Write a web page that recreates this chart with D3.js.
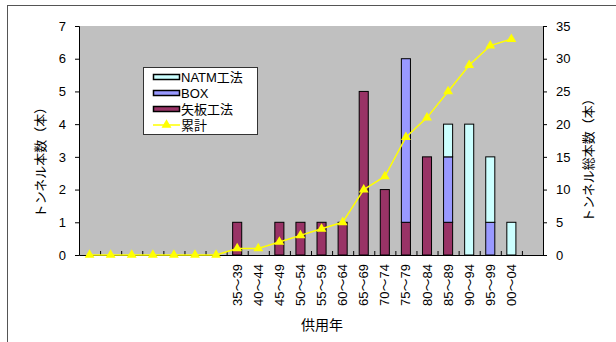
<!DOCTYPE html>
<html>
<head>
<meta charset="utf-8">
<script src="https://cdn.jsdelivr.net/npm/d3@7"></script>
<style>
  body { margin: 0; background: #fff; }
  text { font-family: "Liberation Sans", Arial, "Noto Sans CJK JP", sans-serif; }
</style>
</head>
<body>
<div id="d3-container"></div>
<script>
/**
 * DATA
 * */
// category labels (blank ones at the start and end are real, unlabeled periods)
const periods = ["", "", "", "", "", "", "",
  "35～39", "40～44", "45～49", "50～54", "55～59", "60～64", "65～69",
  "70～74", "75～79", "80～84", "85～89", "90～94", "95～99", "00～04", ""];
const yaita = [0, 0, 0, 0, 0, 0, 0, 1, 0, 1, 1, 1, 1, 5, 2, 1, 3, 1, 0, 0, 0, 0];
const box   = [0, 0, 0, 0, 0, 0, 0, 0, 0, 0, 0, 0, 0, 0, 0, 5, 0, 2, 0, 1, 0, 0];
const natm  = [0, 0, 0, 0, 0, 0, 0, 0, 0, 0, 0, 0, 0, 0, 0, 0, 0, 1, 4, 2, 1, 0];
const cumulative = [0, 0, 0, 0, 0, 0, 0, 1, 1, 2, 3, 4, 5, 10, 12, 18, 21, 25, 29, 32, 33, null];
const leftTicks = [0, 1, 2, 3, 4, 5, 6, 7];
const rightTicks = [0, 5, 10, 15, 20, 25, 30, 35];

const width = 616, height = 342;
const margin = { top: 26, bottom: 87, left: 79, right: 73 };

const keys = ["yaita", "box", "natm"];
const colors = { yaita: "#993366", box: "#9999FF", natm: "#CCFFFF" };

const rows = periods.map((p, i) => ({ i, label: p, yaita: yaita[i], box: box[i], natm: natm[i], cum: cumulative[i] }));

const svg = d3.select("#d3-container").append("svg")
  .attr("width", width)
  .attr("height", height);

// outer frame
svg.append("rect")
  .attr("x", 7.5).attr("y", 5.5)
  .attr("width", 640).attr("height", 400)
  .attr("fill", "none").attr("stroke", "#555");

const x = d3.scaleBand()
  .domain(rows.map(d => d.i))
  .range([margin.left, width - margin.right])
  .padding(0);

const y = d3.scaleLinear().domain([0, 7]).range([height - margin.bottom, margin.top]);
const y2 = d3.scaleLinear().domain([0, 35]).range([height - margin.bottom, margin.top]);

// plot area
svg.append("rect")
  .attr("x", margin.left).attr("y", margin.top)
  .attr("width", width - margin.left - margin.right)
  .attr("height", height - margin.top - margin.bottom)
  .attr("fill", "#C0C0C0");

// stacked bars
const stacked = d3.stack().keys(keys)(rows);
const barW = x.bandwidth() * 0.43;

svg.append("g").selectAll("g")
  .data(stacked)
  .join("g")
  .attr("fill", d => colors[d.key])
  .selectAll("rect")
  .data(d => d.filter(s => s[1] - s[0] > 0))
  .join("rect")
  .attr("x", d => x(d.data.i) + (x.bandwidth() - barW) / 2)
  .attr("y", d => y(d[1]))
  .attr("width", barW)
  .attr("height", d => y(d[0]) - y(d[1]))
  .attr("stroke", "#000")
  .attr("stroke-width", 1);

// left axis
svg.append("g")
  .attr("transform", `translate(${margin.left},0)`)
  .call(d3.axisLeft(y).tickValues(leftTicks).tickFormat(d3.format("d")).tickSize(4).tickPadding(9))
  .call(g => g.selectAll("text").attr("font-size", 13).attr("fill", "#000"))
  .call(g => g.selectAll("line, path").attr("stroke", "#000"));

// right axis
svg.append("g")
  .attr("transform", `translate(${width - margin.right},0)`)
  .call(d3.axisRight(y2).tickValues(rightTicks).tickFormat(d3.format("d")).tickSize(4).tickPadding(9))
  .call(g => g.selectAll("text").attr("font-size", 13).attr("fill", "#000"))
  .call(g => g.selectAll("line, path").attr("stroke", "#000"));

// bottom axis
const xAxis = svg.append("g")
  .attr("transform", `translate(0,${height - margin.bottom})`)
  .call(d3.axisBottom(x).tickFormat(i => periods[i]).tickSize(0).tickPadding(0));
xAxis.select("path").attr("stroke", "#000");
xAxis.selectAll("text")
  .attr("font-size", 13)
  .attr("fill", "#000")
  .attr("text-anchor", "end")
  .attr("dy", "0.35em")
  .attr("transform", "translate(0,9) rotate(-90)")
  .attr("x", 0).attr("y", 0);

// small category boundary ticks
svg.append("g").selectAll("line")
  .data(rows.slice(1))
  .join("line")
  .attr("x1", d => x(d.i) + 0.5).attr("x2", d => x(d.i) + 0.5)
  .attr("y1", height - margin.bottom).attr("y2", height - margin.bottom - 4)
  .attr("stroke", "#000");

// cumulative line
const line = d3.line()
  .defined(d => d.cum != null)
  .x(d => x(d.i) + x.bandwidth() / 2)
  .y(d => y2(d.cum));

svg.append("path")
  .datum(rows)
  .attr("d", line)
  .attr("fill", "none")
  .attr("stroke", "#FFFF00")
  .attr("stroke-width", 1.5);

const tri = d3.symbol().type(d3.symbolTriangle).size(42);
svg.append("g").selectAll("path")
  .data(rows.filter(d => d.cum != null))
  .join("path")
  .attr("d", tri)
  .attr("transform", d => `translate(${x(d.i) + x.bandwidth() / 2},${y2(d.cum)})`)
  .attr("fill", "#FFFF00");

// axis titles
svg.append("text")
  .attr("transform", "translate(40,159) rotate(-90)")
  .attr("text-anchor", "middle")
  .attr("dy", "0.35em")
  .attr("font-size", 13)
  .text("トンネル本数（本）");

svg.append("text")
  .attr("transform", "translate(588,157) rotate(-90)")
  .attr("text-anchor", "middle")
  .attr("dy", "0.35em")
  .attr("font-size", 13)
  .text("トンネル総本数（本）");

svg.append("text")
  .attr("x", 322).attr("y", 330)
  .attr("text-anchor", "middle")
  .attr("font-size", 14)
  .text("供用年");

// legend
const legendItems = [
  { name: "NATM工法", key: "natm" },
  { name: "BOX", key: "box" },
  { name: "矢板工法", key: "yaita" },
  { name: "累計", key: "cum" }
];
const legend = svg.append("g").attr("transform", "translate(143,67)");
legend.append("rect")
  .attr("x", 0.5).attr("y", 0.5)
  .attr("width", 114).attr("height", 67)
  .attr("fill", "#fff").attr("stroke", "#333");

const item = legend.selectAll("g.item")
  .data(legendItems)
  .join("g")
  .attr("class", "item")
  .attr("transform", (d, i) => `translate(0,${10 + i * 16})`);

item.filter(d => d.key !== "cum").append("rect")
  .attr("x", 10.5).attr("y", -2.5)
  .attr("width", 26).attr("height", 5)
  .attr("fill", d => colors[d.key])
  .attr("stroke", "#000").attr("stroke-width", 1.5);

const cumItem = item.filter(d => d.key === "cum");
cumItem.append("line")
  .attr("x1", 10).attr("x2", 37).attr("y1", 0).attr("y2", 0)
  .attr("stroke", "#FFFF00").attr("stroke-width", 1.5);
cumItem.append("path")
  .attr("d", tri)
  .attr("transform", "translate(23.5,0)")
  .attr("fill", "#FFFF00");

item.append("text")
  .attr("x", 38).attr("y", 0)
  .attr("dy", "0.35em")
  .attr("font-size", 13)
  .text(d => d.name);
</script>
</body>
</html>
